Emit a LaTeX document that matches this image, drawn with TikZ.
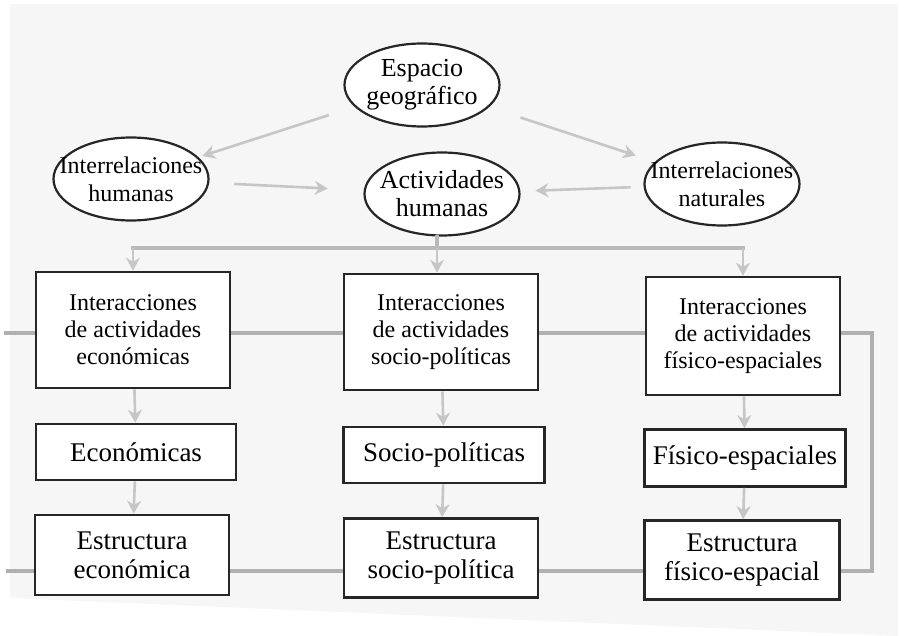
\documentclass[tikz,border=0pt]{standalone}
\usepackage{fontspec}
\setmainfont{Liberation Serif}
\usetikzlibrary{arrows.meta,shapes.geometric}

\tikzset{
  ovalo/.style={ellipse, draw=black!85, line width=2.2pt, fill=white,
    inner xsep=-20pt, inner ysep=-6pt,
    minimum width=155pt, minimum height=83pt, align=center, font=\fontsize{26}{28}\selectfont},
  caja/.style={rectangle, draw=black!85, line width=2.6pt, fill=white, inner sep=0pt,
    align=center, font=\fontsize{27}{29}\selectfont},
  flecha/.style={draw=gray!45, line width=2.6pt, -{Stealth[length=13pt,width=14pt]}},
  linea/.style={draw=gray!55, line width=4pt, line cap=rect},
  lazo/.style={draw=gray!62, line width=4.5pt},
}

\begin{document}
\begin{tikzpicture}[x=1pt,y=-1pt]
    \useasboundingbox (0,0) rectangle (914,636);
    % scanned page
    \fill[gray!7] (10,4) -- (898,4) -- (898,636) -- (10,598) -- cycle;

    % feedback loop behind the boxes
    \draw[lazo] (4,333) -- (872,333) -- (872,571) -- (6,571);

    % ellipses
    \node[ovalo] (esp) at (422,85) {Espacio\\geográfico};
    \node[ovalo, font=\fontsize{24}{28}\selectfont] (inth) at (131,179) {Interrelaciones\\humanas};
    \node[ovalo] (act) at (442,194) {Actividades\\humanas};
    \node[ovalo, font=\fontsize{24}{28}\selectfont] (intn) at (722,184) {Interrelaciones\\naturales};

    \draw[flecha, shorten <=27pt, shorten >=4pt] (esp) -- (inth);
    \draw[flecha, shorten <=33pt, shorten >=20pt] (esp) -- (intn);
    \draw[flecha, shorten <=25pt, shorten >=36pt] (inth) -- (act);
    \draw[flecha, shorten <=13pt, shorten >=15pt] (intn) -- (act);

    % first row
    \node[caja, font=\fontsize{24}{27}\selectfont, minimum width=194pt, minimum height=116pt] (iec) at (133,330)
        {Interacciones\\de actividades\\económicas};
    \node[caja, font=\fontsize{24}{27}\selectfont, minimum width=194pt, minimum height=116pt] (isp) at (441,332)
        {Interacciones\\de actividades\\socio-políticas};
    \node[caja, font=\fontsize{24}{27}\selectfont, minimum width=194pt, minimum height=118pt] (ife) at (743,336)
        {Interacciones\\de actividades\\físico-espaciales};

    % second row
    \node[caja, minimum width=200pt, minimum height=56pt] (ec) at (136,452) {Económicas};
    \node[caja, minimum width=201pt, minimum height=56pt] (sp) at (444,455) {Socio-políticas};
    \node[caja, minimum width=201pt, minimum height=57pt] (fe) at (745,458) {Físico-espaciales};

    % third row
    \node[caja, minimum width=194pt, minimum height=80pt] (eec) at (132,555)
        {Estructura\\económica};
    \node[caja, minimum width=194pt, minimum height=79pt] (esp2) at (441,558)
        {Estructura\\socio-política};
    \node[caja, minimum width=195pt, minimum height=79pt] (efe) at (742,560)
        {Estructura\\físico-espacial};

    % distribution bus
    \coordinate (bus) at (437,248);
    \draw[linea] (act.south -| bus) -- (bus);
    \draw[linea] (iec.north |- bus) -- (ife.north |- bus);
    \draw[flecha] (iec.north |- bus) -- (iec.north);
    \draw[flecha] (bus) -- (isp.north -| bus);
    \draw[flecha] (ife.north |- bus) -- (ife.north);

    % columns
    \draw[flecha] (iec) -- (ec);
    \draw[flecha] (isp) -- (sp);
    \draw[flecha] (ife) -- (fe);
    \draw[flecha] (ec) -- (eec);
    \draw[flecha] (sp) -- (esp2);
    \draw[flecha] (fe) -- (efe);
\end{tikzpicture}
\end{document}
